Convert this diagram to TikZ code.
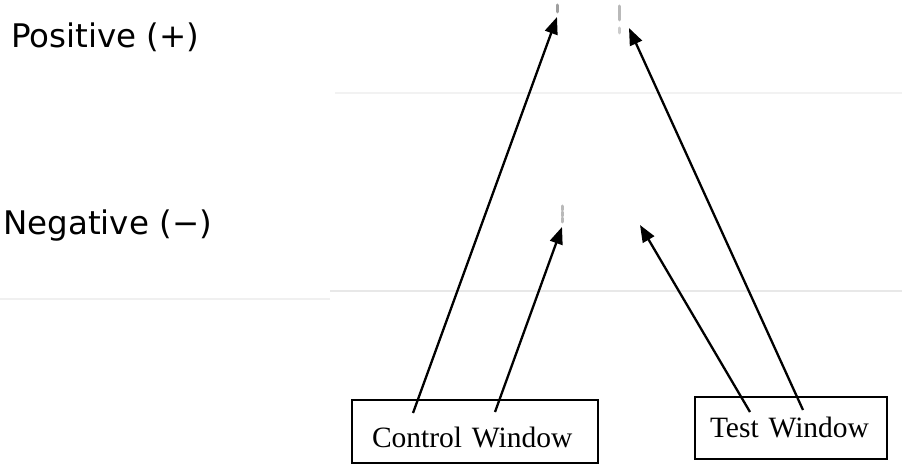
\documentclass[tikz,border=0pt]{standalone}
\usepackage{fontspec}
\setmainfont{Liberation Serif}
\newfontfamily\labelfont{DejaVu Sans}
\usetikzlibrary{arrows.meta}

\tikzset{
  result/.style={font=\labelfont\fontsize{32.5}{32.5}\selectfont, inner sep=0pt},
  window/.style={draw, line width=1.5pt, inner ysep=0pt, align=left,
                 font=\fontsize{29.5}{29.5}\selectfont},
  pointer/.style={line width=2.3pt, -{Triangle[length=17pt,width=13pt]}},
  band/.style={line width=3pt, line cap=round, gray!55},
  ghost/.style={line width=1.6pt, gray!18},
}

\begin{document}
\begin{tikzpicture}[x=1pt, y=-1pt]
  \useasboundingbox (0,0) rectangle (902,465);

  % faint traces of the strip edges
  \draw[ghost, gray!10] (335,93) -- (902,93);
  \draw[ghost] (330,291) -- (902,291);
  \draw[ghost, gray!12] (0,299) -- (330,299);

  % result labels
  \node[result, anchor=base west] (pos) at (11,48) {Positive (+)};
  \node[result, anchor=base west] (neg) at (3,234) {Negative (−)};

  % bands on the strip
  \draw[band, gray!75] (557,5) -- (557,12);
  \draw[band] (619,6) -- (619,20);
  \draw[band, gray!40] (619,28) -- (619,33);
  \draw[band, dash pattern=on 4pt off 2pt] (562,206) -- (562,222);

  % window boxes (text set flush left inside)
  \node[window, inner xsep=20pt, text width=206pt,
        text height=47pt, text depth=16pt] (ctrl) at (475,431.5) {Control Window};
  \node[window, inner xsep=15pt, text width=162pt,
        text height=40pt, text depth=22pt] (test) at (791,428) {Test Window};

  % arrow tips on the strip
  \coordinate (ctrlPos) at (557,17);
  \coordinate (ctrlNeg) at (562,227);
  \coordinate (testPos) at (629,28);
  \coordinate (testNeg) at (640,225);

  % arrow feet inside the boxes
  \coordinate (ctrlA) at (413,413);
  \coordinate (ctrlB) at (495,412);
  \coordinate (testA) at (750,412);
  \coordinate (testB) at (803,410);

  \draw[pointer] (ctrlA) -- (ctrlPos);
  \draw[pointer] (ctrlB) -- (ctrlNeg);
  \draw[pointer] (testA) -- (testNeg);
  \draw[pointer] (testB) -- (testPos);
\end{tikzpicture}
\end{document}
